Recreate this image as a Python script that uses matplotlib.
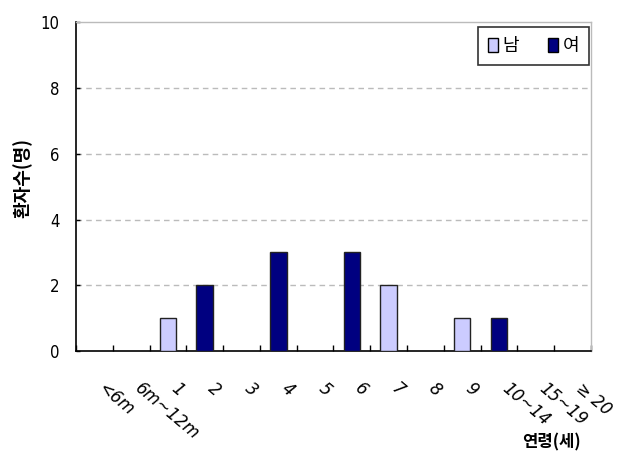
import matplotlib
matplotlib.use("Agg")
import matplotlib.pyplot as plt
import numpy as np
from matplotlib.patches import Patch

categories = ["<6m", "6m~12m", "1", "2", "3", "4", "5", "6", "7", "8", "9", "10~14", "15~19", "≥ 20"]
male = [0, 0, 1, 0, 0, 0, 0, 0, 2, 0, 1, 0, 0, 0]
female = [0, 0, 0, 2, 0, 3, 0, 3, 0, 0, 0, 1, 0, 0]
yticks = [0, 2, 4, 6, 8, 10]

plt.rcParams['font.family'] = ['Noto Sans CJK KR', 'DejaVu Sans']

fig = plt.figure(figsize=(6.2, 4.57), dpi=100)
ax = fig.add_axes([0.1226, 0.232, 0.8304, 0.719])

x = np.arange(len(categories))
w = 0.45
for xi, m, f in zip(x, male, female):
    if m > 0:
        ax.bar(xi, m, width=w, color="#CCCCFF", edgecolor="#222222", linewidth=1, zorder=3)
    if f > 0:
        ax.bar(xi, f, width=w, color="#000080", edgecolor="#222222", linewidth=1, zorder=3)

ax.set_xlim(-0.5, len(categories) - 0.5)
ax.set_ylim(0, 10)
ax.set_yticks(yticks)
ax.set_yticklabels([str(v) for v in yticks], family=['DejaVu Sans'], stretch='condensed', fontsize=12)
for v in yticks[1:-1]:
    ax.axhline(v, color="#BBBBBB", linestyle=(0, (4, 3)), linewidth=1, zorder=1)

ax.set_xticks(np.arange(len(categories) + 1) - 0.5, minor=False)
ax.set_xticklabels([])
ax.tick_params(axis='x', direction='in', length=4, width=1, color='black')
ax.tick_params(axis='y', direction='in', length=3, width=1, pad=12)

for xi, lab in zip(x, categories):
    ax.annotate(lab, xy=(xi, 0), xycoords=('data', 'axes fraction'),
                xytext=(4, -25), textcoords='offset points',
                rotation=-40, rotation_mode='anchor', ha='left', va='center',
                fontsize=12, style='italic', family=['DejaVu Sans'])

for s in ['left', 'bottom']:
    ax.spines[s].set_color('black')
    ax.spines[s].set_linewidth(1.2)
for s in ['top', 'right']:
    ax.spines[s].set_color('#BBBBBB')
    ax.spines[s].set_linewidth(1)

fig.text(0.037, 0.61, "환자수(명)", rotation=90, ha='center', va='center',
         fontsize=13, fontweight='bold')
fig.text(0.889, 0.032, "연령(세)", ha='center', va='center', fontsize=12, fontweight='bold')

handles = [Patch(facecolor="#CCCCFF", edgecolor="black", linewidth=1),
           Patch(facecolor="#000080", edgecolor="black", linewidth=1)]
leg = ax.legend(handles, ["남", "여"], loc='upper right', ncol=2, frameon=True,
                fancybox=False, edgecolor='black', fontsize=13,
                handlelength=0.55, handleheight=0.85, handletextpad=0.25,
                columnspacing=1.6, borderpad=0.55, borderaxespad=0,
                bbox_to_anchor=(0.9965, 0.985))
leg.get_frame().set_linewidth(1.2)

fig.savefig("out.png", dpi=100)
